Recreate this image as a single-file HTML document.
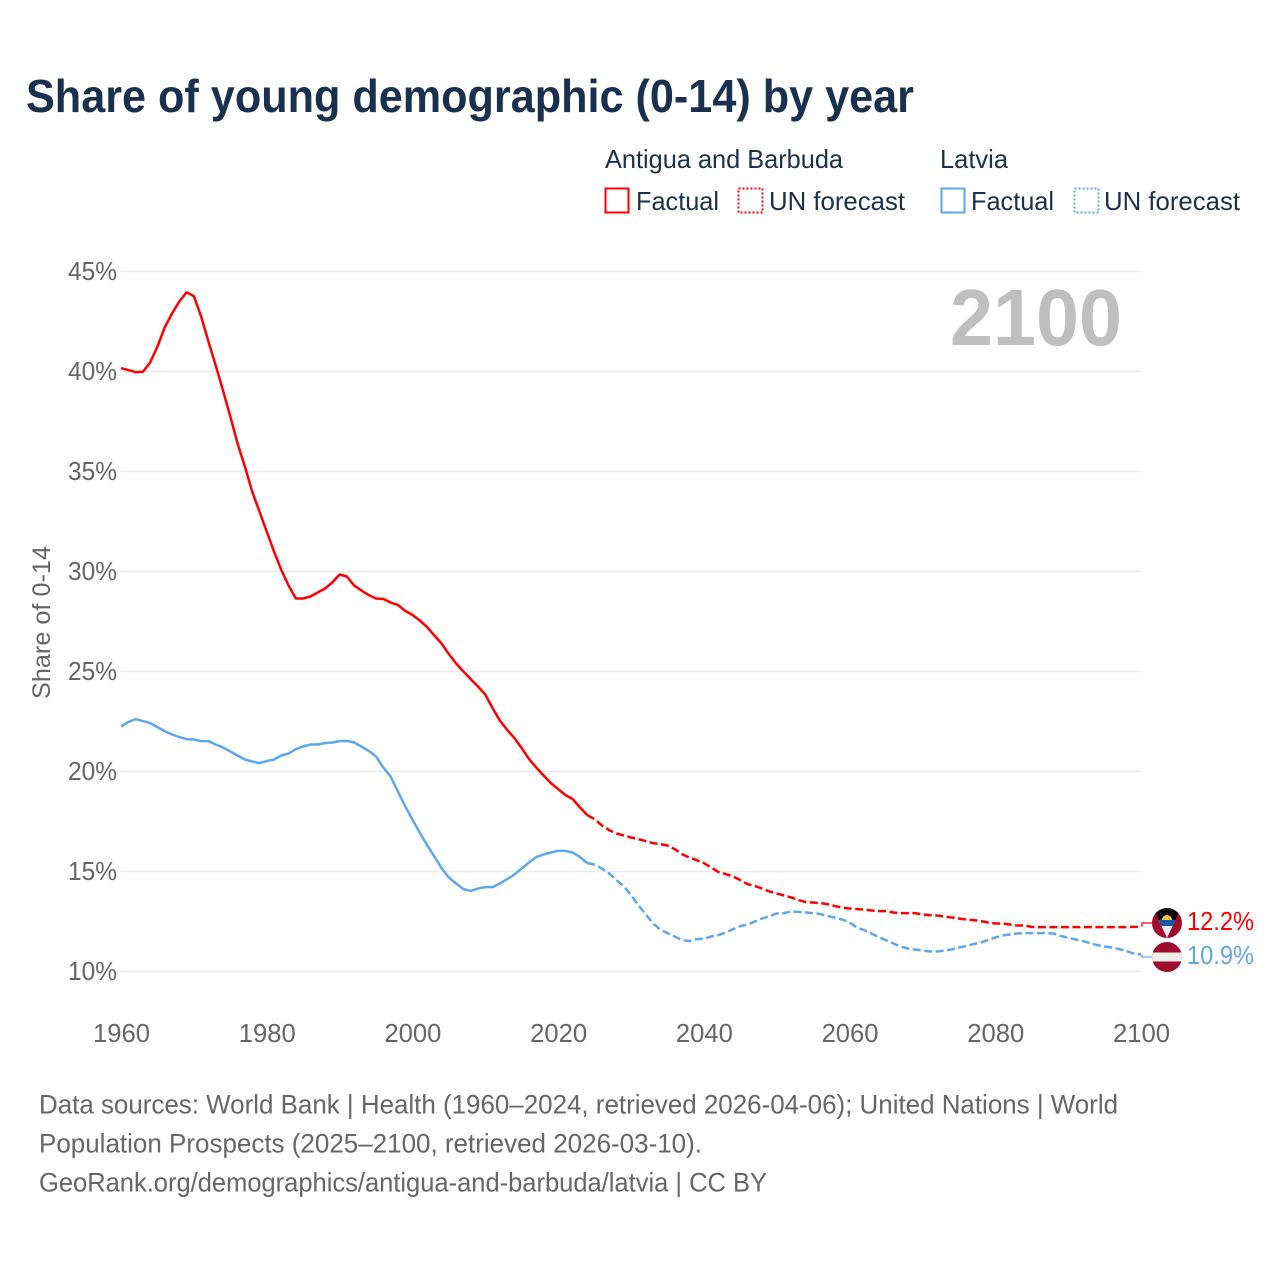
<!DOCTYPE html>
<html lang="en">
<head>
<meta charset="utf-8">
<title>Share of young demographic (0-14) by year</title>
<style>
html,body{margin:0;padding:0;background:#fff;}
svg{display:block;font-family:"Liberation Sans",sans-serif;}
</style>
</head>
<body>
<svg id="chart" xmlns="http://www.w3.org/2000/svg" width="1280" height="1280" viewBox="0 0 1280 1280">
  <defs>
    <clipPath id="flag-clip-a"><circle cx="1167" cy="923" r="15"/></clipPath>
    <clipPath id="flag-clip-b"><circle cx="1167" cy="957" r="15"/></clipPath>
  </defs>
  <rect width="1280" height="1280" fill="#fff"/>
  <text x="26" y="112" font-size="46" font-weight="700" fill="#1a3050" textLength="888" lengthAdjust="spacingAndGlyphs">Share of young demographic (0-14) by year</text>

  <g font-size="26" fill="#1a3050">
    <text x="605" y="168" textLength="238" lengthAdjust="spacingAndGlyphs">Antigua and Barbuda</text>
    <text x="940" y="168" textLength="68" lengthAdjust="spacingAndGlyphs">Latvia</text>
    <rect x="605.5" y="188.5" width="23" height="24" fill="none" stroke="#ff0000" stroke-width="2"/>
    <text x="636" y="210" textLength="83" lengthAdjust="spacingAndGlyphs">Factual</text>
    <rect x="738.5" y="188.5" width="24" height="24" fill="none" stroke="#ff0000" stroke-width="2" stroke-dasharray="2,2"/>
    <text x="769" y="210" textLength="136" lengthAdjust="spacingAndGlyphs">UN forecast</text>
    <rect x="941.5" y="188.5" width="23" height="24" fill="none" stroke="#5ea6ee" stroke-width="2"/>
    <text x="971" y="210" textLength="83" lengthAdjust="spacingAndGlyphs">Factual</text>
    <rect x="1074.5" y="188.5" width="24" height="24" fill="none" stroke="#5ea6ee" stroke-width="2" stroke-dasharray="2,2"/>
    <text x="1104" y="210" textLength="136" lengthAdjust="spacingAndGlyphs">UN forecast</text>
  </g>

  <g id="grid"></g>
  <g id="y-ticks" font-size="26" fill="#666"></g>
  <g id="x-ticks" font-size="26" fill="#666"></g>
  <text transform="translate(50,622.5) rotate(-90)" text-anchor="middle" font-size="25" fill="#666" textLength="153" lengthAdjust="spacingAndGlyphs">Share of 0-14</text>
  <text x="1122" y="345" text-anchor="end" font-size="80" font-weight="700" fill="#bfbfbf" textLength="172" lengthAdjust="spacingAndGlyphs">2100</text>

  <g id="series"></g>

  <g clip-path="url(#flag-clip-a)">
    <rect x="1150" y="906" width="34" height="34" fill="#a00a2b"/>
    <polygon points="1153,908 1181,908 1167,938" fill="#e9edf2"/>
    <polygon points="1153,908 1181,908 1175.4,920 1158.6,920" fill="#0b0b0b"/>
    <polygon points="1158.6,920 1175.4,920 1172.6,926 1161.4,926" fill="#1258ac"/>
    <path d="M1162,920 a5,5 0 0 1 10,0 z" fill="#f5c33b"/>
  </g>
  <g clip-path="url(#flag-clip-b)">
    <rect x="1150" y="940" width="34" height="34" fill="#9e0a2a"/>
    <rect x="1150" y="952.5" width="34" height="9" fill="#eeeeee"/>
  </g>
  <text x="1187" y="930" font-size="26" fill="#ff0000" textLength="67" lengthAdjust="spacingAndGlyphs">12.2%</text>
  <text x="1187" y="964" font-size="26" fill="#5ea6ee" textLength="67" lengthAdjust="spacingAndGlyphs">10.9%</text>

  <g font-size="27" fill="#666">
    <text x="39" y="1113.5" textLength="1079" lengthAdjust="spacingAndGlyphs">Data sources: World Bank | Health (1960–2024, retrieved 2026-04-06); United Nations | World</text>
    <text x="39" y="1152.5" textLength="663" lengthAdjust="spacingAndGlyphs">Population Prospects (2025–2100, retrieved 2026-03-10).</text>
    <text x="39" y="1191.5" textLength="728" lengthAdjust="spacingAndGlyphs">GeoRank.org/demographics/antigua-and-barbuda/latvia | CC BY</text>
  </g>
</svg>
<script>
const startYear = 1960;
const lastFactualYear = 2024;
const yTickValues = [10, 15, 20, 25, 30, 35, 40, 45];
const yTickLabels = ["10%", "15%", "20%", "25%", "30%", "35%", "40%", "45%"];
const xTickYears = [1960, 1980, 2000, 2020, 2040, 2060, 2080, 2100];
const antigua = [
  40.17,40.07,39.97,39.98,40.45,41.25,42.2,42.9,43.5,43.96,
  43.77,42.75,41.5,40.3,39.05,37.75,36.4,35.25,34.0,33.0,
  32.0,31.0,30.08,29.3,28.65,28.65,28.75,28.95,29.15,29.45,
  29.85,29.75,29.3,29.05,28.82,28.65,28.63,28.45,28.33,28.03,
  27.83,27.55,27.23,26.8,26.4,25.87,25.4,25.0,24.62,24.25,
  23.85,23.17,22.55,22.08,21.67,21.17,20.62,20.2,19.8,19.42,
  19.12,18.82,18.62,18.2,17.82,17.62,17.3,17.07,16.9,16.8,
  16.7,16.62,16.52,16.42,16.37,16.3,16.12,15.87,15.7,15.57,
  15.42,15.2,14.97,14.87,14.75,14.57,14.37,14.27,14.15,14.0,
  13.9,13.8,13.7,13.57,13.47,13.45,13.42,13.37,13.27,13.2,
  13.15,13.12,13.1,13.05,13.02,13.02,12.95,12.92,12.92,12.92,
  12.85,12.82,12.8,12.75,12.7,12.65,12.6,12.57,12.52,12.45,
  12.4,12.4,12.35,12.3,12.3,12.23,12.22,12.22,12.22,12.22,
  12.22,12.22,12.22,12.22,12.22,12.22,12.22,12.22,12.22,12.23,12.23
];
const latvia = [
  22.25,22.47,22.62,22.52,22.42,22.22,22.02,21.85,21.72,21.62,
  21.6,21.52,21.52,21.35,21.2,21.0,20.8,20.6,20.5,20.42,
  20.52,20.6,20.8,20.9,21.12,21.25,21.35,21.35,21.42,21.45,
  21.52,21.53,21.45,21.25,21.03,20.75,20.2,19.75,19.0,18.27,
  17.6,16.95,16.33,15.75,15.17,14.7,14.4,14.12,14.03,14.15,
  14.22,14.22,14.4,14.62,14.85,15.15,15.45,15.72,15.85,15.95,
  16.03,16.03,15.95,15.72,15.42,15.35,15.15,14.9,14.57,14.27,
  13.82,13.32,12.87,12.42,12.1,11.92,11.75,11.57,11.52,11.62,
  11.63,11.75,11.82,11.95,12.12,12.27,12.35,12.5,12.65,12.77,
  12.9,12.92,13.0,12.98,12.95,12.92,12.87,12.77,12.7,12.6,
  12.45,12.2,12.07,11.9,11.72,11.57,11.4,11.25,11.15,11.1,
  11.05,11.0,11.0,11.05,11.1,11.2,11.27,11.37,11.45,11.57,
  11.7,11.8,11.85,11.9,11.92,11.92,11.92,11.92,11.9,11.77,
  11.7,11.6,11.52,11.42,11.32,11.25,11.2,11.12,11.02,10.9,10.85
];

const NS = "http://www.w3.org/2000/svg";
const RED = "#ff0000";
const BLUE = "#5ea6ee";
function xScale(year){ return 121 + (year - 1960) * (1020 / 140); }
function yScale(v){ return 971.5 - (v - 10) * 20; }

const grid = document.getElementById("grid");
const yTicks = document.getElementById("y-ticks");
const xTicks = document.getElementById("x-ticks");
const series = document.getElementById("series");

yTickValues.forEach(function(v, i){
  const line = document.createElementNS(NS, "line");
  
  
  line.setAttribute("x1", xScale(1960));
  line.setAttribute("x2", xScale(2100));
  line.setAttribute("y1", yScale(v));
  line.setAttribute("y2", yScale(v));
  line.setAttribute("stroke", "#ebebeb");
  line.setAttribute("stroke-width", "1.4");
  grid.appendChild(line);

  const t = document.createElementNS(NS, "text");
  
  
  t.setAttribute("x", 117);
  t.setAttribute("y", yScale(v) + 8.5);
  t.setAttribute("text-anchor", "end");
  t.setAttribute("textLength", "49");
  t.setAttribute("lengthAdjust", "spacingAndGlyphs");
  t.textContent = yTickLabels[i];
  yTicks.appendChild(t);
});

xTickYears.forEach(function(year){
  const t = document.createElementNS(NS, "text");
  
  
  t.setAttribute("x", xScale(year) + 0.5);
  t.setAttribute("y", 1042);
  t.setAttribute("text-anchor", "middle");
  t.setAttribute("textLength", "57");
  t.setAttribute("lengthAdjust", "spacingAndGlyphs");
  t.textContent = String(year);
  xTicks.appendChild(t);
});

function pathFor(values, from, to){
  let d = "";
  for (let i = from; i <= to; i++) {
    d += (i === from ? "M" : "L") + xScale(startYear + i).toFixed(2) + "," + yScale(values[i]).toFixed(2);
  }
  return d;
}

function drawSeries(values, color, name, flagY){
  const split = lastFactualYear - startYear;
  const solid = document.createElementNS(NS, "path");
  
  
  solid.setAttribute("d", pathFor(values, 0, split));
  solid.setAttribute("fill", "none");
  solid.setAttribute("stroke", color);
  solid.setAttribute("stroke-width", "2.5");
  solid.setAttribute("stroke-linejoin", "round");
  series.appendChild(solid);

  const dashed = document.createElementNS(NS, "path");
  
  
  dashed.setAttribute("d", pathFor(values, split, values.length - 1));
  dashed.setAttribute("fill", "none");
  dashed.setAttribute("stroke", color);
  dashed.setAttribute("stroke-width", "2.5");
  dashed.setAttribute("stroke-dasharray", "8,3.5");
  series.appendChild(dashed);

  const last = values.length - 1;
  const conn = document.createElementNS(NS, "path");
  
  
  const cx = xScale(startYear + last) + 1;
  conn.setAttribute("d", "M" + cx + "," + yScale(values[last]) + "L" + cx + "," + flagY + "L1152," + flagY);
  conn.setAttribute("fill", "none");
  conn.setAttribute("stroke", color);
  conn.setAttribute("stroke-width", "1.2");
  series.appendChild(conn);
}

drawSeries(antigua, RED, "antigua", 923);
drawSeries(latvia, BLUE, "latvia", 957);
</script>
</body>
</html>
